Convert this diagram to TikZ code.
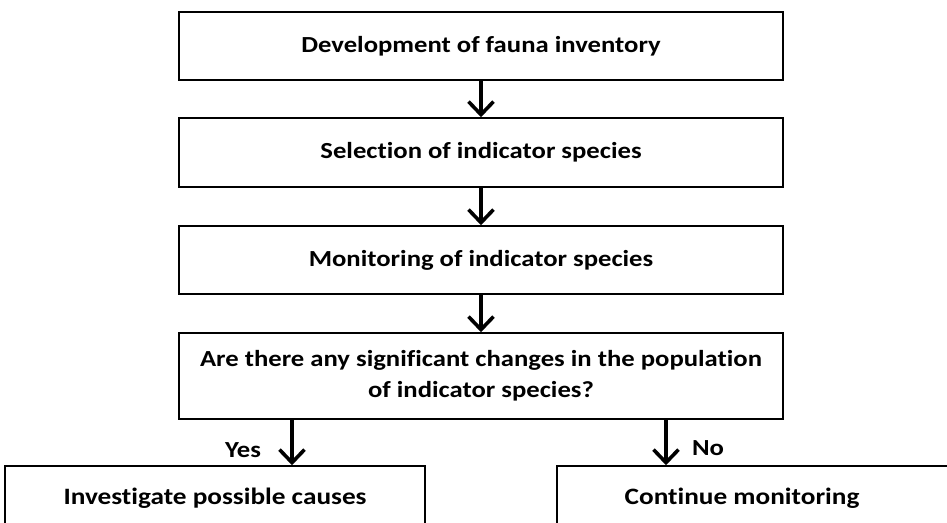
\documentclass[tikz,border=0pt]{standalone}
\usepackage{fontspec}
\setmainfont{Carlito}[FakeStretch=1.16, Ligatures=NoCommon]
\usetikzlibrary{arrows.meta}

\tikzset{
  stepbox/.style={draw, line width=1.6pt, minimum width=604pt, inner sep=0pt,
    font=\fontsize{23}{31}\selectfont\bfseries, align=center},
  endbox/.style={draw, line width=1.6pt, minimum height=64pt, inner sep=0pt,
    font=\fontsize{23.5}{31}\selectfont\bfseries},
  flow/.style={line width=3.6pt, -{Straight Barb[length=13pt,width=25pt]}},
  answer/.style={font=\fontsize{23}{25}\selectfont\bfseries}
}

\begin{document}
\begin{tikzpicture}[x=1pt,y=-1pt]
\clip (0,0) rectangle (947,522);
\useasboundingbox (0,0) rectangle (947,522);

% Boxes
\node[stepbox, minimum height=68pt] (inv) at (481,46) {Development of fauna inventory};
\node[stepbox, minimum height=69pt] (sel) at (481,152.5) {Selection of indicator species};
\node[stepbox, minimum height=68pt] (mon) at (481,260) {Monitoring of indicator species};
\node[stepbox, minimum height=86pt] (chg) at (481,376) {Are there any significant changes in the population\\of indicator species?};
\node[endbox, minimum width=420pt] (cause) at (215,498) {Investigate possible causes};
\node[endbox, minimum width=403pt] (cont) at (758.5,498) {\hspace*{-33pt}Continue monitoring};

% Arrows
\draw[flow] (inv.south) -- (sel.north);
\draw[flow] (sel.south) -- (mon.north);
\draw[flow] (mon.south) -- (chg.north);
\coordinate (yes) at (292,0);
\coordinate (no) at (666,0);
\draw[flow] (chg.south -| yes) -- (cause.north -| yes);
\draw[flow] (chg.south -| no) -- (cont.north -| no);

% Text Node
\node[answer] (ylab) at (243,450) {Yes};
\node[answer] (nlab) at (708,448) {No};

\end{tikzpicture}
\end{document}
